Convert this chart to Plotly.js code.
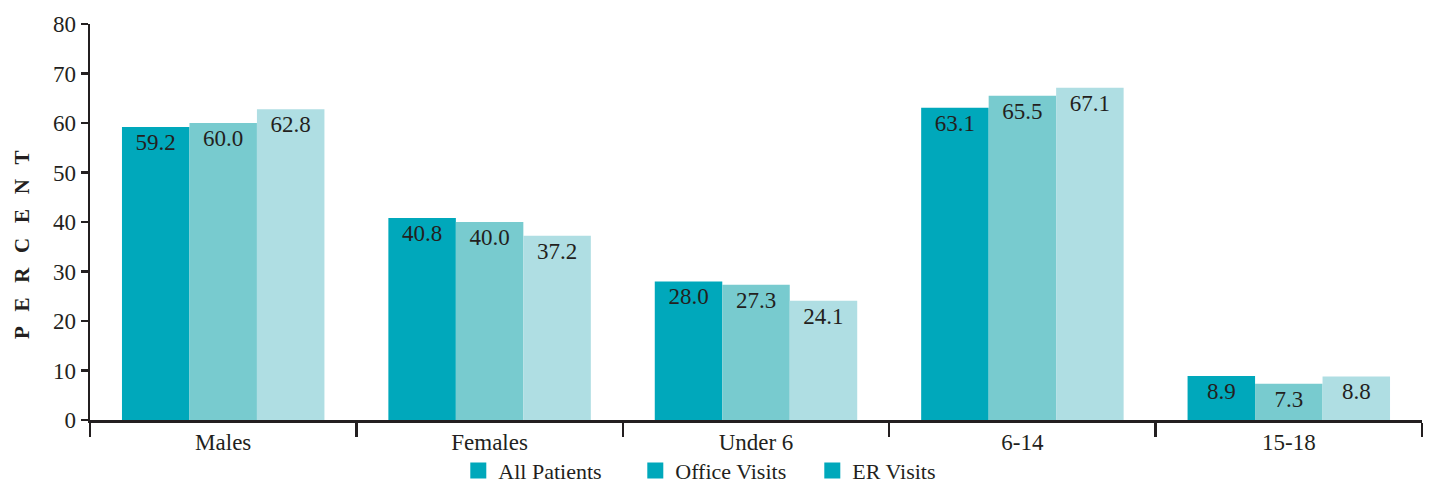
<!DOCTYPE html>
<html>
<head>
<meta charset="utf-8">
<script src="https://cdn.plot.ly/plotly-3.0.1.min.js"></script>
<style>html,body{margin:0;padding:0;background:#fff;}#chart{width:1431px;height:486px;}</style>
</head>
<body>
<div id="chart"></div>
<script>
const categories = ["Males", "Females", "Under 6", "6-14", "15-18"];
const allPatients = [59.2, 40.8, 28.0, 63.1, 8.9];
const officeVisits = [60.0, 40.0, 27.3, 65.5, 7.3];
const erVisits = [62.8, 37.2, 24.1, 67.1, 8.8];
const seriesNames = ["All Patients", "Office Visits", "ER Visits"];
const yTicks = [0, 10, 20, 30, 40, 50, 60, 70, 80];
const yTitle = "PERCENT";

const colors = ["#00a8bb", "#78cbcf", "#afdee3"];
const legendColor = "#00a8bb";
const ink = "#231f20";
const serif = "Liberation Serif, DejaVu Serif, serif";

const series = [allPatients, officeVisits, erVisits];
const traces = series.map((vals, i) => ({
  type: "bar",
  x: categories,
  y: vals,
  name: seriesNames[i],
  showlegend: false,
  marker: {color: colors[i], line: {width: 0}},
  text: vals.map(v => v.toFixed(1)),
  textposition: "inside",
  insidetextanchor: "end",
  constraintext: "none",
  textangle: 0,
  textfont: {family: serif, size: 23, color: ink},
  hoverinfo: "skip"
}));
// legend entries (the reference shows all swatches in the same dark teal)
seriesNames.forEach(n => traces.push({
  type: "scatter", mode: "markers", x: [null], y: [null], name: n, showlegend: true,
  xaxis: "x2", yaxis: "y2",
  marker: {color: legendColor, symbol: "square", size: 16}, hoverinfo: "skip"
}));

const layout = {
  width: 1431, height: 486,
  margin: {l: 90, r: 9, t: 24, b: 66, autoexpand: false},
  paper_bgcolor: "#fff", plot_bgcolor: "#fff",
  barmode: "group", bargap: 0.24, bargroupgap: 0,
  font: {family: serif, size: 20, color: ink},
  xaxis: {
    type: "category",
    showgrid: false, zeroline: false,
    showline: true, linecolor: ink, linewidth: 2.5,
    ticks: "outside", tickson: "boundaries", ticklen: 14, tickwidth: 2.5, tickcolor: ink,
    tickfont: {family: serif, size: 23, color: ink}
  },
  yaxis: {
    range: [0, 80], tickvals: yTicks, ticktext: yTicks.map(String),
    showgrid: false, zeroline: false,
    showline: true, linecolor: ink, linewidth: 2.5,
    ticks: "outside", ticklen: 7, tickwidth: 2.5, tickcolor: ink,
    tickfont: {family: serif, size: 23, color: ink}
  },
  xaxis2: {visible: false, overlaying: "x", range: [0, 1]},
  yaxis2: {visible: false, overlaying: "y", range: [0, 1]},
  annotations: [{
    text: "<b>" + yTitle.split("").join("\u2002\u2009") + "</b>",
    xref: "paper", yref: "paper", x: -0.051, y: 0.442,
    xanchor: "center", yanchor: "middle", textangle: -90, showarrow: false,
    font: {family: serif, size: 21, color: ink}
  }],
  legend: {
    orientation: "h", x: 0.2765, xanchor: "left",
    y: -0.128, yanchor: "middle",
    entrywidth: 132, entrywidthmode: "pixels",
    font: {family: serif, size: 22, color: ink},
    traceorder: "normal",
    bgcolor: "rgba(0,0,0,0)"
  }
};

Plotly.newPlot("chart", traces, layout, {displayModeBar: false, staticPlot: true});
</script>
</body>
</html>
